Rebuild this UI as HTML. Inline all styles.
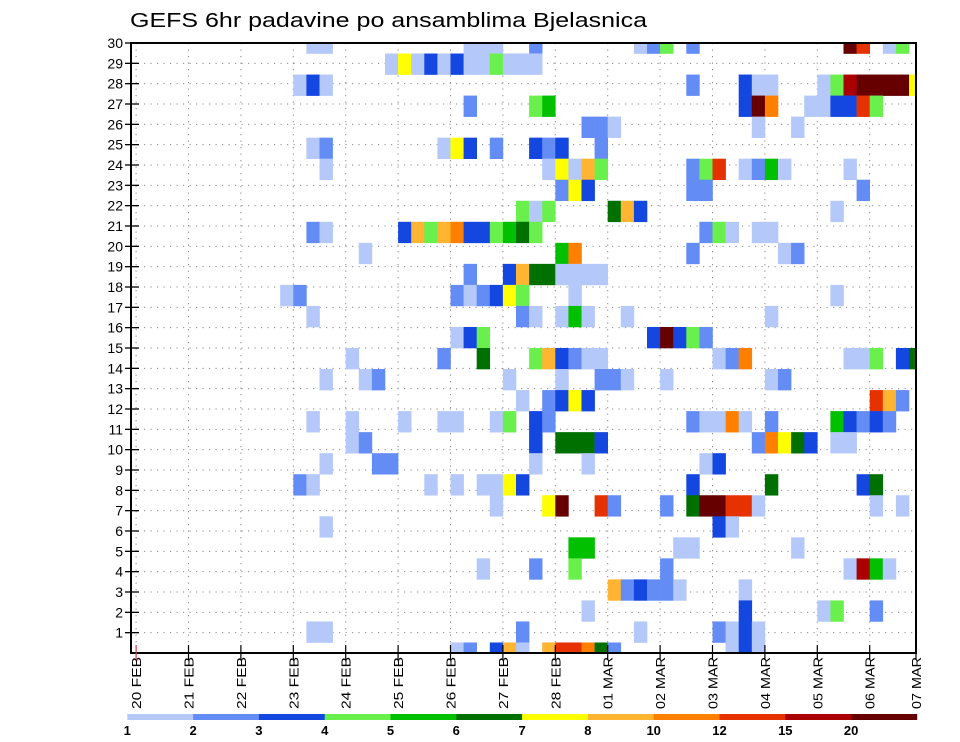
<!DOCTYPE html>
<html><head><meta charset="utf-8"><style>
html,body{margin:0;padding:0;background:#fff;}
svg{display:block;font-family:"Liberation Sans",sans-serif;}
</style></head><body>
<svg id="chart" width="960" height="742" viewBox="0 0 960 742" xmlns="http://www.w3.org/2000/svg">
<defs><clipPath id="plotclip"><rect x="131" y="43" width="785" height="610"/></clipPath></defs>
<rect x="0" y="0" width="960" height="742" fill="#fff"/>
<text x="130" y="27" font-size="20" textLength="517" lengthAdjust="spacingAndGlyphs" fill="#000">GEFS 6hr padavine po ansamblima Bjelasnica</text>
<g id="grid"></g>
<g id="cells" clip-path="url(#plotclip)"></g>
<rect x="131" y="43" width="785" height="610" fill="none" stroke="#000" stroke-width="2"/>
<g id="yaxis"></g>
<g id="xaxis"></g>
<g id="legend"></g>
</svg>
<script>
const dayLabels = ["20 FEB","21 FEB","22 FEB","23 FEB","24 FEB","25 FEB","26 FEB","27 FEB","28 FEB","01 MAR","02 MAR","03 MAR","04 MAR","05 MAR","06 MAR","07 MAR"];
const memberTicks = [1,2,3,4,5,6,7,8,9,10,11,12,13,14,15,16,17,18,19,20,21,22,23,24,25,26,27,28,29,30];
const levelBounds = [1,2,3,4,5,6,7,8,10,12,15,20];
const levelColors = ["#b4c8fa","#648cf5","#1446e0","#6af04c","#00c000","#007000","#ffff00","#ffb432","#ff8000","#e63200","#aa0000","#660000"];
const rowMembers = [29,28,27,26,25,24,23,22,21,20,19,18,17,16,15,14,13,12,11,10,9,8,7,6,5,4,3,2,1,0];
const rowSteps = [
[13,14,25,26,27,30,38,39,40,42,54,55,57,58],
[19,20,21,22,23,24,25,26,27,28,29,30],
[12,13,14,42,46,47,48,52,53,54,55,56,57,58,59],
[25,30,31,46,47,48,51,52,53,54,55,56],
[34,35,36,47,50],
[13,14,23,24,25,27,30,31,32,35],
[14,31,32,33,34,35,42,43,44,46,47,48,49,54],
[32,33,34,42,43,55],
[29,30,31,36,37,38,53],
[13,14,20,21,22,23,24,25,26,27,28,29,30,43,44,45,47,48],
[17,32,33,42,49,50],
[25,28,29,30,31,32,33,34,35],
[11,12,24,25,26,27,28,29,33,53],
[13,29,30,32,33,34,37,48],
[24,25,26,39,40,41,42,43],
[16,23,26,30,31,32,33,34,35,44,45,46,54,55,56,58,59],
[14,17,18,28,32,35,36,37,40,48,49],
[29,31,32,33,34,56,57,58],
[13,16,20,23,24,27,28,30,31,42,43,44,45,46,48,53,54,55,56,57],
[16,17,30,32,33,34,35,47,48,49,50,51,53,54],
[14,18,19,30,34,43,44],
[12,13,22,24,26,27,28,29,42,48,55,56],
[27,31,32,35,36,40,42,43,44,45,46,47,56,58],
[14,44,45],
[33,34,41,42,50],
[26,30,33,40,54,55,56,57],
[36,37,38,39,40,41,46],
[34,46,52,53,56],
[13,14,29,38,44,45,46,47],
[24,25,27,28,29,31,32,33,34,35,36,45,46,47]
];
const rowValues = [
[1.5,1.5,1.5,1.5,1.5,2.5,1.5,2.5,4.5,2.5,25,13.5,1.5,4.5],
[1.5,7.5,1.5,3.5,1.5,3.5,1.5,1.5,4.5,1.5,1.5,1.5],
[1.5,3.5,1.5,2.5,3.5,1.5,1.5,1.5,4.5,17,25,25,25,25,7.5],
[2.5,4.5,5.5,3.5,25,11,1.5,1.5,3.5,3.5,13.5,4.5],
[2.5,2.5,1.5,1.5,1.5],
[1.5,2.5,1.5,7.5,3.5,2.5,3.5,2.5,3.5,2.5],
[1.5,1.5,7.5,1.5,9,4.5,2.5,4.5,13.5,1.5,2.5,5.5,1.5,1.5],
[2.5,7.5,3.5,2.5,2.5,2.5],
[4.5,1.5,4.5,6.5,9,3.5,1.5],
[2.5,1.5,3.5,9,4.5,9,11,3.5,3.5,4.5,5.5,6.5,4.5,2.5,4.5,1.5,1.5,1.5],
[1.5,5.5,11,2.5,1.5,2.5],
[2.5,3.5,9,6.5,6.5,1.5,1.5,1.5,1.5],
[1.5,2.5,2.5,1.5,2.5,3.5,7.5,4.5,1.5,1.5],
[1.5,2.5,1.5,1.5,5.5,1.5,1.5,1.5],
[1.5,3.5,4.5,3.5,25,3.5,4.5,2.5],
[1.5,2.5,6.5,4.5,9,3.5,2.5,1.5,1.5,1.5,2.5,11,1.5,1.5,4.5,3.5,6.5],
[1.5,1.5,2.5,1.5,1.5,2.5,2.5,1.5,1.5,1.5,2.5],
[1.5,2.5,3.5,7.5,3.5,13.5,9,2.5],
[1.5,1.5,1.5,1.5,1.5,1.5,4.5,3.5,2.5,2.5,1.5,1.5,11,1.5,2.5,5.5,3.5,2.5,3.5,2.5],
[1.5,2.5,3.5,6.5,6.5,6.5,3.5,2.5,11,7.5,6.5,3.5,1.5,1.5],
[1.5,2.5,2.5,1.5,1.5,1.5,3.5],
[2.5,1.5,1.5,1.5,1.5,1.5,7.5,3.5,3.5,6.5,3.5,6.5],
[1.5,7.5,25,13.5,2.5,2.5,6.5,25,25,13.5,13.5,1.5,1.5,1.5],
[1.5,3.5,1.5],
[5.5,5.5,1.5,1.5,1.5],
[1.5,2.5,4.5,2.5,1.5,17,5.5,1.5],
[9,2.5,3.5,2.5,2.5,1.5,1.5],
[1.5,3.5,1.5,4.5,2.5],
[1.5,1.5,2.5,1.5,2.5,1.5,3.5,1.5],
[1.5,2.5,3.5,9,1.5,9,13.5,13.5,11,6.5,2.5,1.5,3.5,1.5]
];

const NS = "http://www.w3.org/2000/svg";
const PL = 131, PR = 916, PT = 43, PB = 653;
const X0 = 136.1, DAY = 52.4, STEP = DAY / 4;
const ROWH = (PB - PT) / 30;
const CELLH = (PB - PT) / 29;
function xStep(c) { return X0 + c * STEP; }
function xDay(d) { return X0 + d * DAY; }
function yTick(m) { return PB - m * ROWH; }
function yCell(k) { return PB - k * CELLH; }
function colorFor(v) {
  let idx = -1;
  for (let i = 0; i < levelBounds.length; i++) if (v >= levelBounds[i]) idx = i;
  return idx < 0 ? null : levelColors[idx];
}
function mk(tag, attrs, parent) {
  const el = document.createElementNS(NS, tag);
  for (const a in attrs) el.setAttribute(a, attrs[a]);
  parent.appendChild(el);
  return el;
}
const grid = document.getElementById('grid');
memberTicks.forEach(m => {
  if (m >= 30) return;
  const ln = mk('line', {x1: PL, x2: PR, y1: yTick(m), y2: yTick(m), stroke: '#8a8a8a', 'stroke-width': 1, 'stroke-dasharray': '1.2 5.3'}, grid);
  
  
});
dayLabels.forEach((d, i) => {
  const x = xDay(i);
  if (x >= PR) return;
  const ln = mk('line', {x1: x, x2: x, y1: PT, y2: PB, stroke: '#8a8a8a', 'stroke-width': 1, 'stroke-dasharray': '1.2 5.3'}, grid);
  
  
});
const cells = document.getElementById('cells');
rowMembers.forEach((k, r) => {
  rowSteps[r].forEach((c, j) => {
    const col = colorFor(rowValues[r][j]);
    if (!col) return;
    const yc = yCell(k);
    const rc = mk('rect', {x: xStep(c), y: yc - CELLH / 2, width: STEP + 0.3, height: CELLH + 0.3, fill: col}, cells);
    
    
  });
});
const yaxis = document.getElementById('yaxis');
memberTicks.forEach(m => {
  const y = yTick(m);
  const t = mk('line', {x1: 125, x2: 139, y1: y, y2: y, stroke: '#000', 'stroke-width': 1.3}, yaxis);
  
  
  const lb = mk('text', {x: 123, y: y + 5, 'text-anchor': 'end', 'font-size': 14, fill: '#000'}, yaxis);
  lb.textContent = String(m);
  
  
});
const xaxis = document.getElementById('xaxis');
dayLabels.forEach((d, i) => {
  let x = xDay(i);
  if (x > PR) x = PR;
  const t = mk('line', {x1: x, x2: x, y1: 645, y2: 660, stroke: i === 0 ? '#d04040' : '#000', 'stroke-width': 1.2}, xaxis);
  
  
  const lb = mk('text', {x: 0, y: 0, 'text-anchor': 'end', 'font-size': 13, fill: '#000', transform: 'translate(' + (x + 5) + ',657) rotate(-90)', textLength: 52, lengthAdjust: 'spacingAndGlyphs'}, xaxis);
  lb.textContent = d;
  
  
});
const legend = document.getElementById('legend');
const LX = 127.3, LW = 65.8;
levelBounds.forEach((b, i) => {
  const r = mk('rect', {x: LX + i * LW, y: 714, width: LW + 0.3, height: 6, fill: levelColors[i]}, legend);
  
  
  const t = mk('text', {x: LX + i * LW, y: 735, 'text-anchor': 'middle', 'font-size': 13, 'font-weight': 'bold', fill: '#000'}, legend);
  t.textContent = String(b);
  
  
});
</script>
</body></html>
